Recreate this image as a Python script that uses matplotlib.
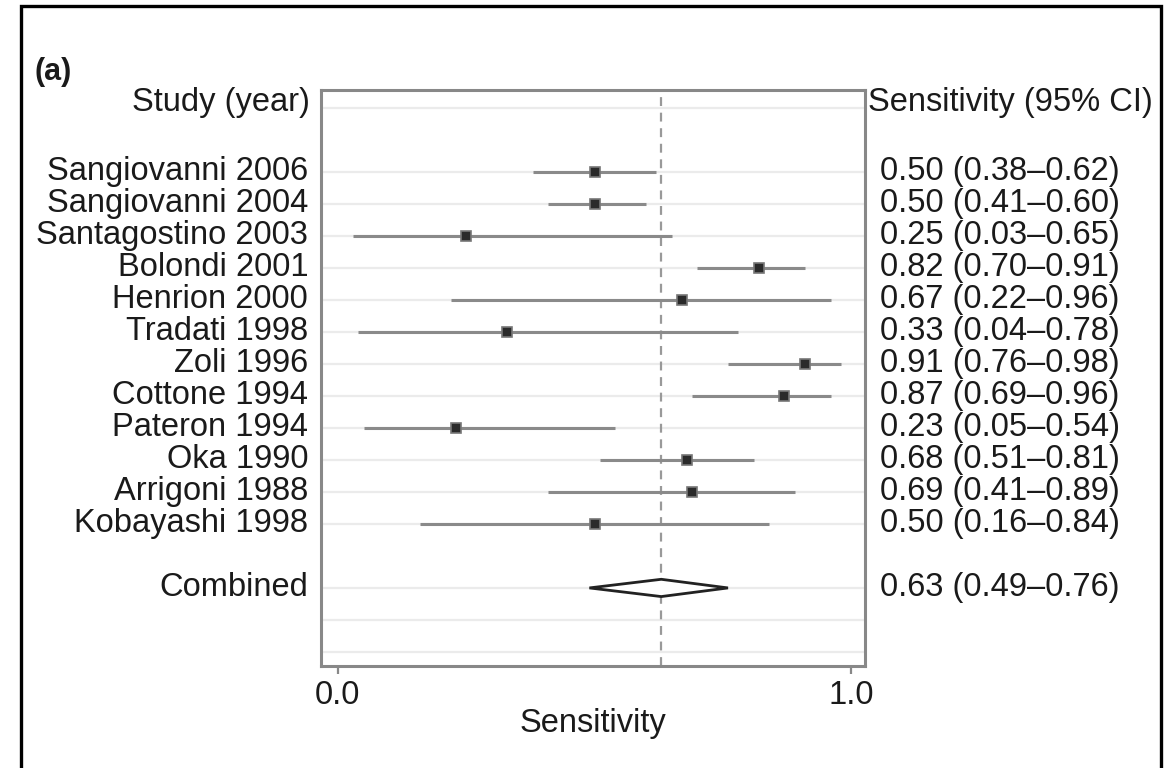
import matplotlib.pyplot as plt
from matplotlib.patches import Polygon, Rectangle

plt.rcParams['font.family'] = ['Liberation Sans', 'DejaVu Sans']

# data
studies = ['Sangiovanni 2006', 'Sangiovanni 2004', 'Santagostino 2003', 'Bolondi 2001',
           'Henrion 2000', 'Tradati 1998', 'Zoli 1996', 'Cottone 1994', 'Pateron 1994',
           'Oka 1990', 'Arrigoni 1988', 'Kobayashi 1998']
sens = [0.50, 0.50, 0.25, 0.82, 0.67, 0.33, 0.91, 0.87, 0.23, 0.68, 0.69, 0.50]
lower = [0.38, 0.41, 0.03, 0.70, 0.22, 0.04, 0.76, 0.69, 0.05, 0.51, 0.41, 0.16]
upper = [0.62, 0.60, 0.65, 0.91, 0.96, 0.78, 0.98, 0.96, 0.54, 0.81, 0.89, 0.84]
combined = 0.63
comb_lo = 0.49
comb_hi = 0.76

rows = list(range(2, 2 + len(studies)))
comb_row = rows[-1] + 2
grid_rows = [0] + rows + [comb_row, comb_row + 1, comb_row + 2]

fs = 23.5
tc = '#1a1a1a'

fig = plt.figure(figsize=(11.74, 7.68), dpi=100)
ax = fig.add_axes([321 / 1174, 1 - 666 / 768, 544 / 1174, 576 / 768])

for r in grid_rows:
    ax.axhline(r, color='#ebebeb', lw=1.6, zorder=0)

ax.axvline(combined, color='#999999', lw=1.6, ls=(0, (4, 3)), zorder=1)

for r, s, lo, hi in zip(rows, sens, lower, upper):
    ax.plot([lo, hi], [r, r], color='#8a8a8a', lw=2.2, solid_capstyle='butt', zorder=2)
    ax.plot(s, r, marker='s', ms=7.5, color='#2a2a2a', mec='#777777', mew=1.2, zorder=3)

dh = 0.27
diamond = Polygon([[comb_lo, comb_row], [combined, comb_row - dh], [comb_hi, comb_row],
                   [combined, comb_row + dh]], closed=True, facecolor='white',
                  edgecolor='#222222', lw=2.0, zorder=3)
ax.add_patch(diamond)

# left and right text columns
ax.text(-0.055, -0.16, 'Study (year)', ha='right', va='center', fontsize=fs, color=tc, clip_on=False)
ax.text(1.033, -0.16, 'Sensitivity (95% CI)', ha='left', va='center', fontsize=fs, color=tc, clip_on=False)
for r, name, s, lo, hi in zip(rows, studies, sens, lower, upper):
    ax.text(-0.058, r, name, ha='right', va='center', fontsize=fs, color=tc, clip_on=False)
    ax.text(1.056, r, '%.2f (%.2f\u2013%.2f)' % (s, lo, hi), ha='left', va='center',
            fontsize=fs, color=tc, clip_on=False)
ax.text(-0.058, comb_row, 'Combined', ha='right', va='center', fontsize=fs, color=tc, clip_on=False)
ax.text(1.056, comb_row, '%.2f (%.2f\u2013%.2f)' % (combined, comb_lo, comb_hi), ha='left',
        va='center', fontsize=fs, color=tc, clip_on=False)

ax.set_xlim(-0.033, 1.027)
ax.set_ylim(17.44, -0.5625)
ax.set_yticks([])
ax.set_xticks([0.0, 1.0])
ax.set_xticklabels(['0.0', '1.0'], fontsize=fs, color=tc)
ax.tick_params(axis='x', direction='out', length=6, width=1.6, color='#888888', pad=4)
ax.set_xlabel('Sensitivity', fontsize=fs, color=tc, labelpad=-2)
for sp in ax.spines.values():
    sp.set_color('#888888')
    sp.set_linewidth(2.2)

fig.text(35 / 1174, 1 - 72 / 768, '(a)', fontsize=22, fontweight='bold', color=tc,
         ha='left', va='center')

# outer frame
fig.add_artist(Rectangle((21 / 1174, -0.05), 1140 / 1174, 1.05 - 6 / 768, fill=False,
                         edgecolor='black', lw=2.4, transform=fig.transFigure))

fig.savefig('out.png', dpi=100)
